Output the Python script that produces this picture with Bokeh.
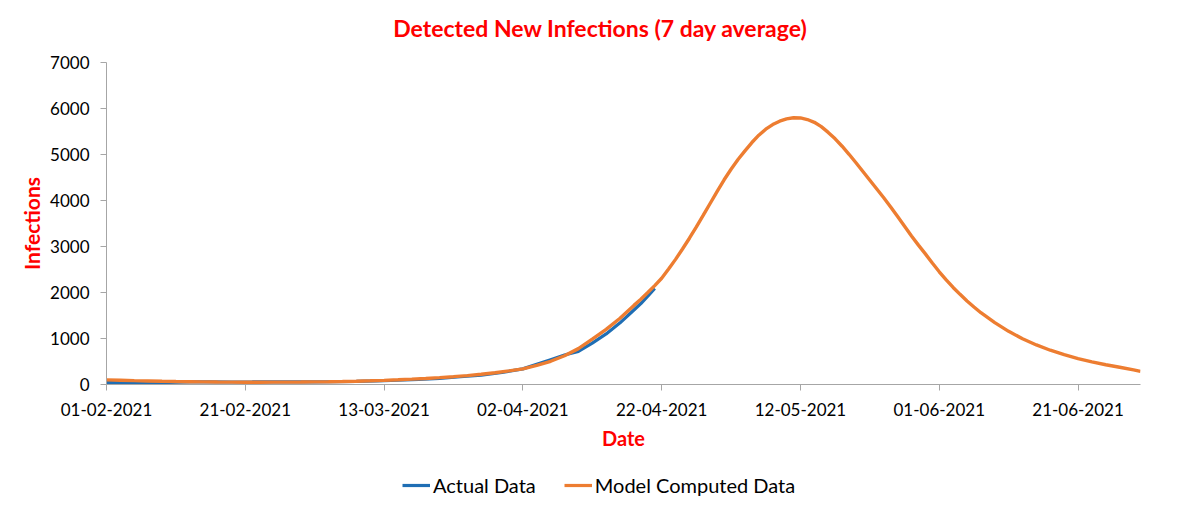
import pandas as pd
from bokeh.plotting import figure
from bokeh.layouts import column
from bokeh.models import FixedTicker, DatetimeTickFormatter, Range1d, Legend, LegendItem, Label
from bokeh.embed import file_html
from bokeh.resources import INLINE

# ---------------- data ----------------
title_text = "Detected New Infections (7 day average)"
start_date = "2021-02-01"
tick_labels = ["01-02-2021", "21-02-2021", "13-03-2021", "02-04-2021",
               "22-04-2021", "12-05-2021", "01-06-2021", "21-06-2021"]
y_ticks = [0, 1000, 2000, 3000, 4000, 5000, 6000, 7000]

model_days = [0, 2, 4, 6, 8, 10, 12, 14, 16, 18, 20, 22, 24, 26, 28, 30, 32, 34, 36, 38,
              40, 42, 44, 46, 48, 50, 52, 54, 56, 58, 60, 62, 64, 66, 68, 70, 72, 74,
              76, 77, 78, 79, 80, 81, 82, 83, 84, 85, 86, 87, 88, 89, 90, 91, 92, 93, 94,
              95, 96, 97, 98, 99, 100, 101, 102, 103, 104, 105, 106, 107, 108, 109, 110,
              111, 112, 113, 114, 115, 116, 117, 118, 119, 120, 121, 122, 123, 124, 125,
              126, 128, 130, 132, 134, 136, 138, 140, 142, 144, 146, 148, 149]
model_values = [100, 92, 84, 77, 70, 64, 60, 56, 53, 51, 50, 50, 51, 52, 54, 57, 61, 66, 72, 80,
                90, 102, 116, 132, 150, 170, 194, 222, 256, 296, 340, 415, 505, 625, 780, 985,
                1200, 1440,
                1720, 1855, 2000, 2150, 2310, 2510, 2720, 2945, 3180, 3425, 3680, 3940, 4200,
                4450, 4680, 4890, 5080, 5260, 5420, 5550, 5650, 5725, 5775, 5800, 5795, 5760,
                5700, 5605, 5480, 5340, 5180, 5005, 4820, 4630, 4440, 4250, 4060, 3860, 3650,
                3440, 3230, 3030, 2840, 2640, 2450, 2275, 2110, 1960, 1815, 1685,
                1560, 1345, 1155, 995, 860, 745, 648, 563, 492, 430, 375, 318, 285]

actual_days = [0, 3, 6, 9, 12, 15, 18, 21, 24, 27, 30, 33, 36, 39, 42, 45, 48, 51, 54, 57,
               60, 62, 64, 66, 68, 70, 72, 74, 76, 77, 78, 79]
actual_values = [48, 45, 43, 47, 55, 56, 54, 55, 58, 60, 59, 63, 70, 80, 92, 110, 135, 168,
                 205, 262, 340, 440, 540, 640, 720, 900, 1100, 1340, 1620, 1760, 1920, 2090]

series_names = ["Actual Data", "Model Computed Data"]
series_colors = ["#1F6EB4", "#ED7D31"]

# ---------------- build ----------------
t0 = pd.Timestamp(start_date)
model_x = t0 + pd.to_timedelta(model_days, unit="D")
actual_x = t0 + pd.to_timedelta(actual_days, unit="D")
tick_dates = pd.to_datetime(tick_labels, format="%d-%m-%Y")
tick_ms = [int(d.value // 10**6) for d in tick_dates]

FONT = "Lato"
RED = "#FF0000"
AXIS_GRAY = "#A6A6A6"
W = 1192
BORDERS = dict(min_border_left=106, min_border_right=52)


def strip(height):
    f = figure(width=W, height=height, output_backend="svg", toolbar_location=None,
               min_border_top=0, min_border_bottom=0, x_range=Range1d(0, 1),
               y_range=Range1d(0, 1), **BORDERS)
    f.axis.visible = False
    f.grid.visible = False
    f.outline_line_color = None
    f.border_fill_color = "white"
    return f


# title strip
tf = strip(50)
tf.add_layout(Label(x=494, y=23, x_units="screen", y_units="screen", text=title_text,
                    text_align="center", text_baseline="middle", text_font=FONT,
                    text_font_size="23px", text_font_style="bold", text_color=RED))

# main chart
p = figure(width=W, height=405, x_axis_type="datetime",
           output_backend="svg", toolbar_location=None,
           min_border_top=12, min_border_bottom=71, **BORDERS)
p.x_range = Range1d(t0, t0 + pd.Timedelta(days=149))
p.y_range = Range1d(0, 7000)
p.outline_line_color = None
p.grid.visible = False
p.background_fill_color = "white"
p.border_fill_color = "white"

r_actual = p.line(actual_x, actual_values, line_color=series_colors[0], line_width=3.2)
r_model = p.line(model_x, model_values, line_color=series_colors[1], line_width=3.4)

xa = p.xaxis[0]
xa.ticker = FixedTicker(ticks=tick_ms)
xa.formatter = DatetimeTickFormatter(days="%d-%m-%Y", months="%d-%m-%Y", years="%d-%m-%Y")
xa.axis_label = "Date"
ya = p.yaxis[0]
ya.ticker = FixedTicker(ticks=y_ticks)
ya.axis_label = "Infections"

for ax in (xa, ya):
    ax.axis_line_color = AXIS_GRAY
    ax.major_tick_line_color = AXIS_GRAY
    ax.minor_tick_line_color = None
    ax.major_tick_in = 0
    ax.major_tick_out = 6
    ax.major_label_text_font = FONT
    ax.major_label_text_font_size = "17px"
    ax.major_label_text_color = "#000000"
    ax.axis_label_text_font = FONT
    ax.axis_label_text_font_style = "bold"
    ax.axis_label_text_color = RED
xa.axis_label_text_font_size = "20px"
ya.axis_label_text_font_size = "21px"
xa.major_label_standoff = 12
xa.axis_label_standoff = 7
ya.major_label_standoff = 11
ya.axis_label_standoff = 3

# legend strip: same series drawn in a view whose ranges exclude them, so only the keys show
lg = strip(50)
items = []
for name, col, xs, ys in zip(series_names, series_colors, [actual_x, model_x],
                             [actual_values, model_values]):
    r = lg.line(xs, ys, line_color=col, line_width=3.2)
    items.append(LegendItem(label=name, renderers=[r]))
legend = Legend(items=items, orientation="horizontal", location=(296, 8))
legend.padding = 0
legend.margin = 0
legend.spacing = 28
legend.glyph_width = 28
legend.glyph_height = 20
legend.label_height = 20
legend.label_standoff = 3
legend.label_text_font = FONT
legend.label_text_font_size = "20px"
legend.label_text_color = "#000000"
legend.border_line_alpha = 0
legend.background_fill_alpha = 0
lg.add_layout(legend, "center")

layout = column(tf, p, lg, spacing=0)
open("out.html", "w").write(file_html(layout, INLINE))
